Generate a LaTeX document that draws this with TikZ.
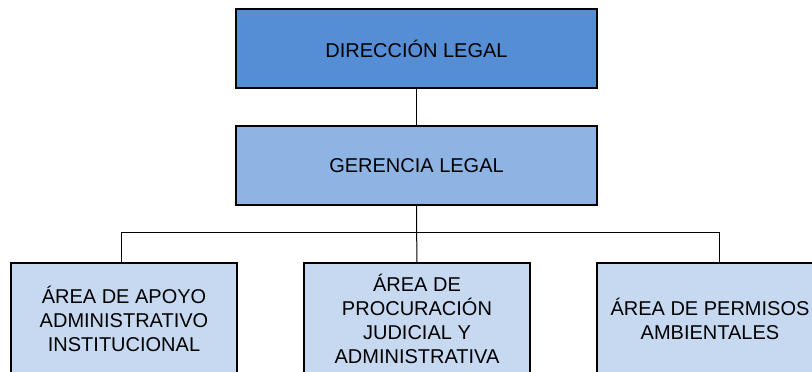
\documentclass[tikz,border=0pt]{standalone}
\usepackage{fontspec}
\setmainfont{Liberation Sans}
\definecolor{dircol}{HTML}{558ED5}
\definecolor{gercol}{HTML}{8EB4E3}
\definecolor{areacol}{HTML}{C6D9F1}
\tikzset{
  unit/.style={draw=black, line width=2pt, align=center, inner sep=0pt,
    font=\fontsize{20}{24}\selectfont},
  head/.style={unit, minimum width=361pt, minimum height=79pt},
  area/.style={unit, fill=areacol, minimum width=226pt, minimum height=112pt},
  link/.style={line width=1pt}
}
\begin{document}
\begin{tikzpicture}[x=1pt, y=-1pt]
      \useasboundingbox (0,0) rectangle (812,372);
      \node[head, fill=dircol] (direccion) at (416.5,48.5) {DIRECCIÓN LEGAL};
      \node[head, fill=gercol] (gerencia) at (416.5,165.5) {GERENCIA LEGAL};
      \node[area] (apoyo) at (124,319) {ÁREA DE APOYO\\ADMINISTRATIVO\\INSTITUCIONAL};
      \node[area] (procuracion) at (417,319) {ÁREA DE\\PROCURACIÓN\\JUDICIAL Y\\ADMINISTRATIVA};
      \node[area] (permisos) at (710,319) {ÁREA DE PERMISOS\\AMBIENTALES};
      \begin{scope}[link]
        \draw (direccion) -- (gerencia);
        \draw (gerencia) -- (procuracion);
        \draw ([xshift=-3pt]apoyo.north) -- ++(0,-30) -| ([xshift=9pt]permisos.north);
      \end{scope}
    \end{tikzpicture}
\end{document}
